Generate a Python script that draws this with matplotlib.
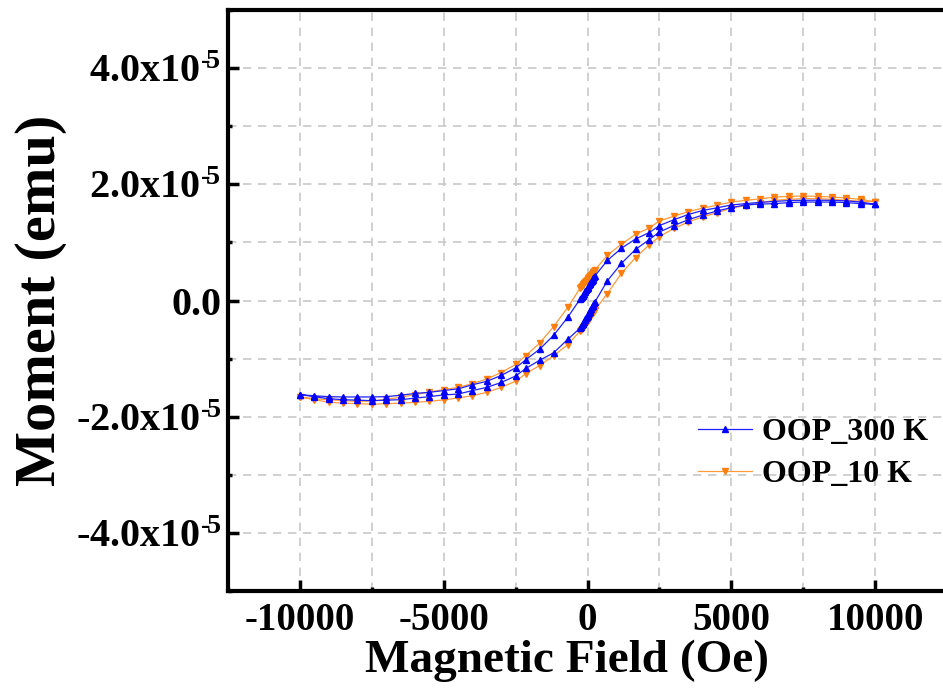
import matplotlib
matplotlib.use("Agg")
import matplotlib.pyplot as plt
from matplotlib.ticker import MultipleLocator, FuncFormatter
import numpy as np

# Fuente tipo Times en negrita para todo
plt.rcParams['font.family'] = 'Liberation Serif'
plt.rcParams['font.weight'] = 'bold'
plt.rcParams['mathtext.fontset'] = 'custom'
plt.rcParams['mathtext.rm'] = 'Liberation Serif:bold'
plt.rcParams['mathtext.it'] = 'Liberation Serif:bold:italic'
plt.rcParams['mathtext.bf'] = 'Liberation Serif:bold'
plt.rcParams['axes.unicode_minus'] = False

# Barrido de campo (Oe): bajada de +10000 a -10000
campo_baja = [10000, 9500, 9000, 8500, 8000, 7500, 7000, 6500, 6000, 5500, 5000, 4500, 4000, 3500, 3000, 2500,
              2150, 1670, 1180, 690,
              250, 225, 200, 175, 150, 125, 100, 75, 50, 25, 0, -25, -50, -75, -100, -125, -150, -175, -200, -225, -250,
              -690, -1180, -1670, -2150,
              -2500, -3000, -3500, -4000, -4500, -5000, -5500, -6000, -6500, -7000, -7500, -8000, -8500, -9000, -9500, -10000]
# subida de -10000 a +10000
campo_sube = [-h for h in campo_baja]

# Momento (x1e-5 emu), OOP 300 K
m300_baja = [1.655, 1.695, 1.715, 1.724, 1.726, 1.724, 1.72, 1.705, 1.69, 1.667, 1.645, 1.595, 1.55, 1.48, 1.39, 1.29,
             1.17, 1.06, 0.90, 0.69,
             0.42, 0.40, 0.38, 0.36, 0.34, 0.32, 0.30, 0.28, 0.26, 0.24, 0.22, 0.20, 0.18, 0.16, 0.14, 0.12, 0.10, 0.08, 0.06, 0.045, 0.03,
             -0.29, -0.60, -0.84, -1.02,
             -1.16, -1.29, -1.39, -1.45, -1.52, -1.55, -1.58, -1.60, -1.63, -1.655, -1.66, -1.66, -1.66, -1.655, -1.64, -1.62]
m300_sube = [-1.62, -1.655, -1.69, -1.707, -1.715, -1.724, -1.715, -1.707, -1.68, -1.655, -1.625, -1.61, -1.55, -1.495, -1.41, -1.30,
             -1.17, -1.03, -0.90, -0.67,
             -0.47, -0.45, -0.43, -0.41, -0.39, -0.37, -0.34, -0.32, -0.30, -0.28, -0.26, -0.23, -0.21, -0.19, -0.17, -0.14, -0.12, -0.10, -0.08, -0.05, -0.03,
             0.34, 0.64, 0.88, 1.05,
             1.18, 1.29, 1.39, 1.47, 1.54, 1.60, 1.645, 1.66, 1.667, 1.685, 1.695, 1.695, 1.695, 1.685, 1.667, 1.655]

# Momento (x1e-5 emu), OOP 10 K
m10_baja = [1.70, 1.74, 1.764, 1.78, 1.793, 1.798, 1.793, 1.78, 1.75, 1.724, 1.695, 1.64, 1.59, 1.53, 1.45, 1.37,
            1.25, 1.14, 0.97, 0.78,
            0.52, 0.505, 0.49, 0.475, 0.46, 0.445, 0.43, 0.415, 0.40, 0.385, 0.37, 0.355, 0.34, 0.325, 0.31, 0.295, 0.28, 0.265, 0.25, 0.235, 0.22,
            -0.12, -0.45, -0.735, -0.95,
            -1.10, -1.24, -1.35, -1.43, -1.495, -1.534, -1.575, -1.62, -1.665, -1.70, -1.73, -1.735, -1.724, -1.707, -1.69, -1.66]
m10_sube = [-1.66, -1.707, -1.75, -1.767, -1.776, -1.784, -1.776, -1.767, -1.753, -1.736, -1.71, -1.677, -1.638, -1.58, -1.495, -1.39,
            -1.26, -1.12, -0.95, -0.76,
            -0.52, -0.50, -0.485, -0.47, -0.45, -0.435, -0.415, -0.40, -0.38, -0.365, -0.345, -0.325, -0.31, -0.29, -0.275, -0.255, -0.24, -0.22, -0.205, -0.185, -0.17,
            0.12, 0.47, 0.74, 0.96,
            1.10, 1.24, 1.35, 1.44, 1.51, 1.59, 1.635, 1.68, 1.725, 1.741, 1.753, 1.753, 1.741, 1.724, 1.707, 1.70]

etiquetas = ['OOP_300 K', 'OOP_10 K']

fig = plt.figure(figsize=(9.43, 7.0), dpi=100)
ax = fig.add_axes([0.2418, 0.1557, 0.7625, 0.83])

h300 = np.array(campo_baja + campo_sube)
y300 = np.array(m300_baja + m300_sube) * 1e-5
h10 = np.array(campo_baja + campo_sube)
y10 = np.array(m10_baja + m10_sube) * 1e-5

ax.plot(h300, y300, color='#2020ff', lw=0.9, marker='^', ms=5, mfc='#0000ff', mec='#0000ff',
        label=etiquetas[0], zorder=4)
ax.plot(h10, y10, color='#ff9a3a', lw=0.9, marker='v', ms=5, mfc='#ff7f0e', mec='#ff7f0e',
        label=etiquetas[1], zorder=3)

ax.set_xlim(-12500, 12500)
ax.set_ylim(-5e-5, 5e-5)

ax.xaxis.set_major_locator(MultipleLocator(5000))
ax.xaxis.set_minor_locator(MultipleLocator(2500))
ax.yaxis.set_major_locator(MultipleLocator(2e-5))
ax.yaxis.set_minor_locator(MultipleLocator(1e-5))

def fmt_y(v, pos):
    if abs(v) < 1e-12:
        return '0.0'
    return '%.1fx10$^{\u2010\\!5}$' % (v / 1e-5)

ax.xaxis.set_major_formatter(FuncFormatter(lambda v, pos: '%d' % v))
ax.yaxis.set_major_formatter(FuncFormatter(fmt_y))

ax.grid(True, which='both', color='#c8c8c8', linestyle=(0, (5, 4)), linewidth=1.2, zorder=0)
ax.set_axisbelow(True)

for s in ax.spines.values():
    s.set_linewidth(3)

ax.tick_params(which='major', direction='in', length=8, width=2.5, labelsize=28, pad=8)
ax.tick_params(which='minor', direction='in', length=3, width=2.5)
ax.tick_params(axis='y', which='major', pad=5, labelsize=29)

ax.set_xlabel('Magnetic Field (Oe)', fontsize=34, fontweight='bold')
ax.set_ylabel('Moment (emu)', fontsize=42, fontweight='bold')
ax.xaxis.set_label_coords(0.4715, -0.084)
ax.yaxis.set_label_coords(-0.224, 0.5)

ax.legend(loc='upper left', bbox_to_anchor=(0.636, 0.32), frameon=False, fontsize=23,
          handlelength=1.7, handletextpad=0.3, labelspacing=0.4, numpoints=1, borderaxespad=0)

fig.savefig('out.png', dpi=100)
